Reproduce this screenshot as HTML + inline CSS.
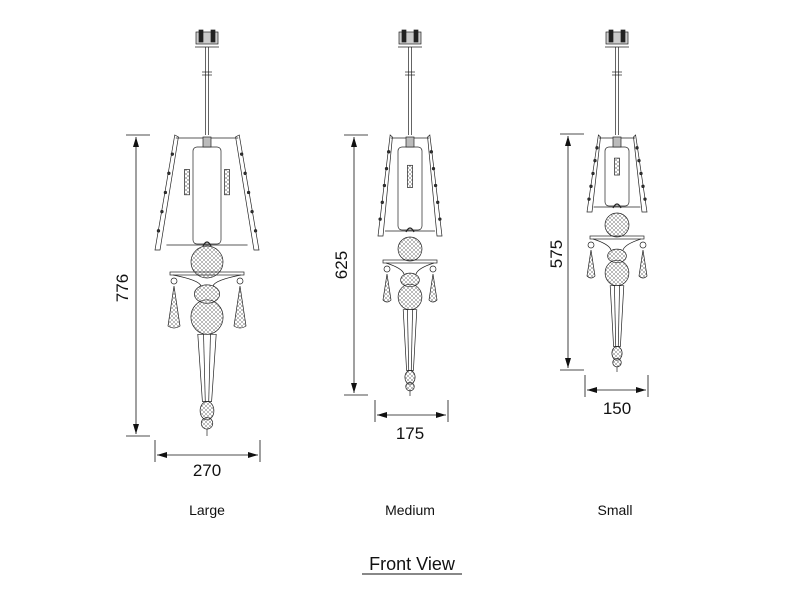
<!DOCTYPE html>
<html><head><meta charset="utf-8"><style>
html,body{margin:0;padding:0;background:#fff;}
svg{display:block}
text{font-family:"Liberation Sans",sans-serif;fill:#111}
</style></head><body>
<svg id="s" width="800" height="601" viewBox="0 0 800 601" xmlns="http://www.w3.org/2000/svg">
<defs>
<marker id="a" markerWidth="10" markerHeight="6" refX="10" refY="3" orient="auto-start-reverse" markerUnits="userSpaceOnUse"><path d="M0,0 L10,3 L0,6 z" fill="#111"/></marker>
<pattern id="h" width="4" height="4" patternUnits="userSpaceOnUse"><path d="M0,0 L4,4 M4,0 L0,4" stroke="#777" stroke-width="0.5"/></pattern>
</defs>
<g stroke="#111" stroke-width="0.8" fill="none">
<!-- large dims -->
<line x1="126" y1="135" x2="150" y2="135"/><line x1="126" y1="436" x2="150" y2="436"/>
<line x1="136" y1="137" x2="136" y2="434" marker-start="url(#a)" marker-end="url(#a)"/>
<line x1="155" y1="440" x2="155" y2="462"/><line x1="260" y1="440" x2="260" y2="462"/>
<line x1="157" y1="455" x2="258" y2="455" marker-start="url(#a)" marker-end="url(#a)"/>
<!-- medium dims -->
<line x1="344" y1="135" x2="368" y2="135"/><line x1="344" y1="395" x2="368" y2="395"/>
<line x1="354" y1="137" x2="354" y2="393" marker-start="url(#a)" marker-end="url(#a)"/>
<line x1="375" y1="400" x2="375" y2="422"/><line x1="448" y1="400" x2="448" y2="422"/>
<line x1="377" y1="415" x2="446" y2="415" marker-start="url(#a)" marker-end="url(#a)"/>
<!-- small dims -->
<line x1="560" y1="134" x2="584" y2="134"/><line x1="560" y1="370" x2="584" y2="370"/>
<line x1="568" y1="136" x2="568" y2="368" marker-start="url(#a)" marker-end="url(#a)"/>
<line x1="585" y1="375" x2="585" y2="397"/><line x1="648" y1="375" x2="648" y2="397"/>
<line x1="587" y1="390" x2="646" y2="390" marker-start="url(#a)" marker-end="url(#a)"/>
<line x1="362" y1="574" x2="462" y2="574" stroke-width="1"/>
</g>
<text x="128" y="288" font-size="17" text-anchor="middle" transform="rotate(-90 128 288)">776</text>
<text x="207" y="476" font-size="17" text-anchor="middle">270</text>
<text x="347" y="265" font-size="17" text-anchor="middle" transform="rotate(-90 347 265)">625</text>
<text x="410" y="439" font-size="17" text-anchor="middle">175</text>
<text x="562" y="254" font-size="17" text-anchor="middle" transform="rotate(-90 562 254)">575</text>
<text x="617" y="414" font-size="17" text-anchor="middle">150</text>
<text x="207" y="515" font-size="14" text-anchor="middle">Large</text>
<text x="410" y="515" font-size="14" text-anchor="middle">Medium</text>
<text x="615" y="515" font-size="14" text-anchor="middle">Small</text>
<text x="412" y="570" font-size="18" text-anchor="middle">Front View</text>
<g id="fx" stroke="#222" stroke-width="0.7" fill="none"></g>
</svg>
<script>
function F(c,o){
 var g='',cx=c;
 function L(a,b,d,e){g+='<line x1="'+a+'" y1="'+b+'" x2="'+d+'" y2="'+e+'"/>';}
 // canopy
 g+='<rect x="'+(cx-11)+'" y="32" width="22" height="12" fill="#ccc"/>';
 g+='<rect x="'+(cx-8)+'" y="30" width="4" height="12" fill="#222"/><rect x="'+(cx+4)+'" y="30" width="4" height="12" fill="#222"/>';
 L(cx-12,47,cx+12,47);
 // rod
 L(cx-1.5,47,cx-1.5,o.ct);L(cx+1.5,47,cx+1.5,o.ct);L(cx-5,72,cx+5,72);L(cx-5,75,cx+5,75);
 // cage
 var w=o.w,t=o.ct,b=o.cb;
 L(cx-w*0.6,t+3,cx+w*0.6,t+3);L(cx-w*0.78,b-5,cx+w*0.78,b-5);
 g+='<path d="M'+(cx-w*0.62)+','+t+' L'+(cx-w)+','+b+' L'+(cx-w+5)+','+b+' L'+(cx-w*0.55)+','+(t+2)+' z"/>';
 g+='<path d="M'+(cx+w*0.62)+','+t+' L'+(cx+w)+','+b+' L'+(cx+w-5)+','+b+' L'+(cx+w*0.55)+','+(t+2)+' z"/>';
 for(var i=1;i<6;i++){var f=i/6;var y=t+(b-t)*f;g+='<circle cx="'+(cx-w*0.6-w*0.4*f)+'" cy="'+y+'" r="1.3" fill="#333"/><circle cx="'+(cx+w*0.6+w*0.4*f)+'" cy="'+y+'" r="1.3" fill="#333"/>';}
 g+='<rect x="'+(cx-o.iw)+'" y="'+(t+12)+'" width="'+(2*o.iw)+'" height="'+(b-t-18)+'" rx="4"/>';
 g+='<rect x="'+(cx-4)+'" y="'+(t+2)+'" width="8" height="10" fill="#bbb"/>';
 o.bulbs.forEach(function(d){g+='<rect x="'+(cx+d-2.5)+'" y="'+(t+(b-t)*0.3)+'" width="5" height="'+((b-t)*0.22)+'" fill="url(#h)" stroke="#222"/>';});
 g+='<path d="M'+(cx-4)+','+(b-4)+' q4,-8 8,0" stroke-width="1.2"/>';
 // globe
 g+='<circle cx="'+cx+'" cy="'+o.gy+'" r="'+o.gr+'" fill="url(#h)"/>';
 // plate
 var p=o.py,ph=o.ph;
 g+='<rect x="'+(cx-ph)+'" y="'+p+'" width="'+(2*ph)+'" height="3"/>';
 g+='<path d="M'+(cx-ph+3)+','+(p+3)+' Q'+(cx-8)+','+(p+8)+' '+(cx-6)+','+(p+14)+' M'+(cx+ph-3)+','+(p+3)+' Q'+(cx+8)+','+(p+8)+' '+(cx+6)+','+(p+14)+'"/>';
 [-1,1].forEach(function(sg){var x=cx+sg*o.dx;g+='<circle cx="'+x+'" cy="'+(p+9)+'" r="3"/>';
  g+='<path d="M'+x+','+(p+14)+' L'+(x-o.dw)+','+(p+14+o.dh)+' Q'+x+','+(p+18+o.dh)+' '+(x+o.dw)+','+(p+14+o.dh)+' z" fill="url(#h)"/>';});
 // body
 var s=o.s,y0=p+14;
 g+='<ellipse cx="'+cx+'" cy="'+(y0+7*s)+'" rx="'+(11*s)+'" ry="'+(8*s)+'" fill="url(#h)"/>';
 g+='<ellipse cx="'+cx+'" cy="'+(y0+27*s)+'" rx="'+(14*s)+'" ry="'+(15*s)+'" fill="url(#h)"/>';
 var y1=y0+42*s,y2=o.bb-30*s;
 g+='<path d="M'+(cx-8*s)+','+y1+' L'+(cx-4*s)+','+y2+' L'+(cx+4*s)+','+y2+' L'+(cx+8*s)+','+y1+' z"/>';
 L(cx-3*s,y1,cx-1.5*s,y2);L(cx+3*s,y1,cx+1.5*s,y2);
 g+='<ellipse cx="'+cx+'" cy="'+(y2+8*s)+'" rx="'+(6*s)+'" ry="'+(8*s)+'" fill="url(#h)"/>';
 g+='<ellipse cx="'+cx+'" cy="'+(y2+19*s)+'" rx="'+(5*s)+'" ry="'+(5*s)+'" fill="url(#h)"/>';
 L(cx,y2+24*s,cx,o.bb);
 return g;
}
document.getElementById('fx').innerHTML=
 F(207,{ct:135,cb:250,w:52,iw:14,bulbs:[-20,20],gy:262,gr:16,py:272,ph:37,dx:33,dw:6,dh:40,s:1.15,bb:436})+
 F(410,{ct:135,cb:236,w:32,iw:12,bulbs:[0],gy:249,gr:12,py:260,ph:27,dx:23,dw:4,dh:26,s:0.85,bb:396})+
 F(617,{ct:135,cb:212,w:30,iw:12,bulbs:[0],gy:225,gr:12,py:236,ph:27,dx:26,dw:4,dh:26,s:0.85,bb:372});
</script>
</body></html>
